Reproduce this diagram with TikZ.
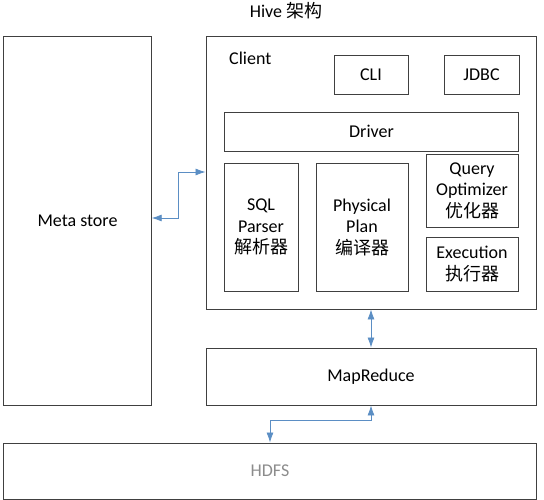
\documentclass[tikz,border=0pt]{standalone}
\usepackage{fontspec}
\setmainfont{Carlito}
\newfontfamily\cjk{Noto Sans CJK SC}
\usetikzlibrary{arrows.meta}
\definecolor{linkblue}{HTML}{5B8EC4}
\definecolor{boxgray}{HTML}{404040}

\begin{document}
\begin{tikzpicture}[x=1pt, y=-1pt,
      every node/.style = {align=center, inner sep=0pt, text=black, font=\fontsize{18}{21.5}\selectfont},
      box/.style 2 args = {draw=boxgray, line width=0.9pt, minimum width=#1, minimum height=#2},
      link/.style = {draw=linkblue, line width=0.8pt, {Latex[length=10pt,width=7pt]}-{Latex[length=10pt,width=7pt]}}]
      \useasboundingbox (0,0) rectangle (544,500);
      \node (title) at (286,11) {Hive {\cjk 架构}};
      % left column
      \node[box={147.5pt}{369pt}] (meta) at (77.5,220.5) {Meta store};
      % client and its parts
      \node[box={330pt}{273pt}] (client) at (371,172.5) {};
      \node[anchor=west] (clientlbl) at (229,58) {Client};
      \node[box={74pt}{39pt}] (cli) at (371,74.5) {CLI};
      \node[box={75pt}{39pt}] (jdbc) at (481.5,74.5) {JDBC};
      \node[box={294.5pt}{39pt}] (driver) at (371.5,131.5) {Driver};
      \node[box={74pt}{128pt}] (parser) at (261,227) {SQL\\Parser\\{\cjk 解析器}};
      \node[box={92pt}{128pt}] (plan) at (362,227) {Physical\\Plan\\{\cjk 编译器}};
      \node[box={92pt}{73pt}] (optimizer) at (472,190.5) {Query\\Optimizer\\{\cjk 优化器}};
      \node[box={92pt}{54pt}] (executor) at (472,264) {Execution\\{\cjk 执行器}};
      % lower layers
      \node[box={330pt}{57pt}] (mapred) at (371,376.5) {MapReduce};
      \node[box={532.5pt}{56pt}, text=black!45] (hdfs) at (270,471) {HDFS};
      % connectors
      \draw[link] (meta.east |- 0,218) -| (178,172) -- (client.west |- 0,172);
      \draw[link] (client.south) -- (mapred.north);
      \draw[link] (mapred.south) -- ++(0,15) -| (hdfs.north);
\end{tikzpicture}
\end{document}
